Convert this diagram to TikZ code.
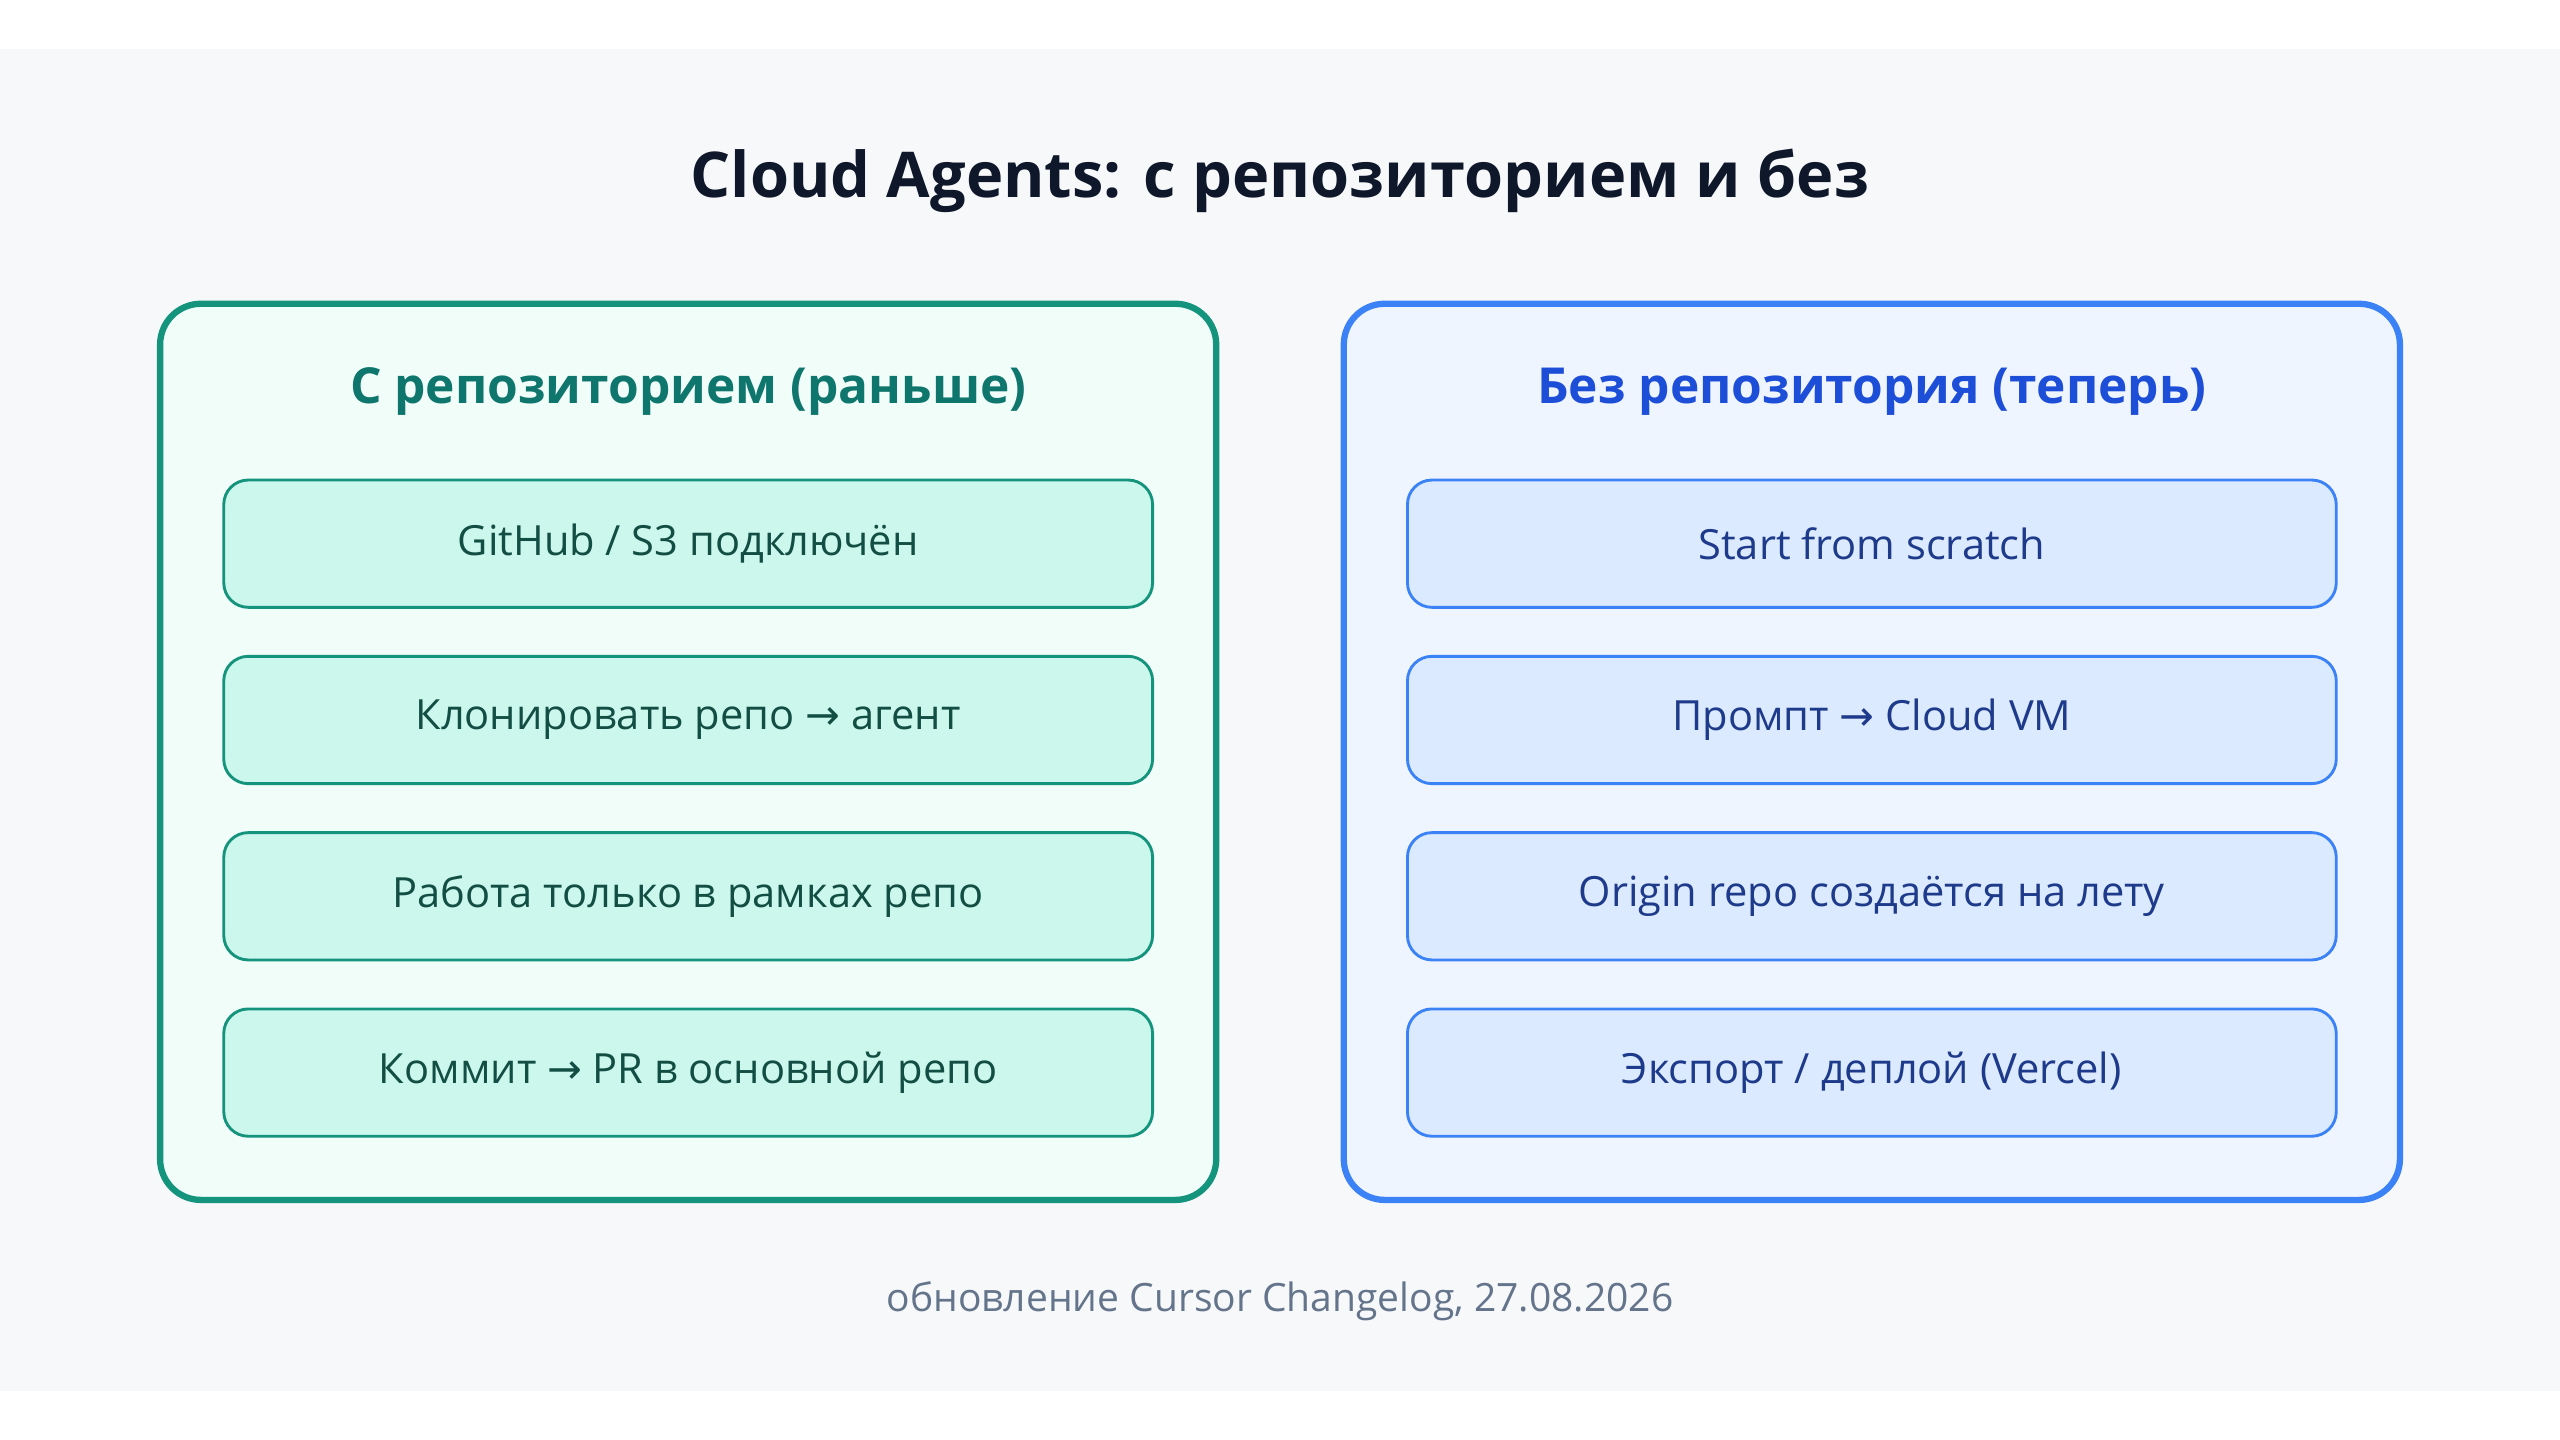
\documentclass[tikz,border=0pt]{standalone}
\usepackage{fontspec}
\setmainfont{Open Sans}
\newfontfamily\arrowfont{DejaVu Sans}
\usetikzlibrary{positioning}
\definecolor{bgpage}{HTML}{F7F8FA}
\definecolor{titlecol}{HTML}{0F172A}
\definecolor{footcol}{HTML}{64748B}
\definecolor{tealline}{HTML}{14937D}
\definecolor{tealpanel}{HTML}{F0FDF9}
\definecolor{tealbox}{HTML}{CCF7EC}
\definecolor{tealtext}{HTML}{134E44}
\definecolor{tealhead}{HTML}{0F766E}
\definecolor{blueline}{HTML}{3B82F6}
\definecolor{bluepanel}{HTML}{EFF5FF}
\definecolor{bluebox}{HTML}{DBEAFE}
\definecolor{bluetext}{HTML}{1E3A8A}
\definecolor{bluehead}{HTML}{1D4ED8}
\newcommand{\ar}{{\arrowfont →}}
\tikzset{
	panel/.style={rectangle,rounded corners=0.5cm,line width=2.2pt,minimum width=12.94cm,minimum height=10.98cm},
	stepbox/.style={rectangle,rounded corners=0.3cm,line width=1pt,minimum width=11.38cm,minimum height=1.56cm,font=\fontsize{14.5}{17}\selectfont},
	head/.style={font=\fontsize{17.3}{20}\selectfont\bfseries}
}
\begin{document}
\begin{tikzpicture}[x=0.02cm,y=-0.02cm,node distance=0.565cm]
	\useasboundingbox (0,0) rectangle (1568,882);
	\fill[white] (0,0) rectangle (1568,882);
	\fill[bgpage] (0,30) rectangle (1568,852);
	\node[font=\fontsize{22}{26}\selectfont\bfseries,text=titlecol] (title) at (784,111) {Cloud Agents: с репозиторием и без};
	% left panel
	\node[panel,draw=tealline,fill=tealpanel] (lpanel) at (421.5,460.5) {};
	\node[head,text=tealhead] (lhead) at (421.5,240) {С репозиторием (раньше)};
	\node[stepbox,draw=tealline,fill=tealbox,text=tealtext] (l1) at (421.5,333) {GitHub / S3 подключён};
	\node[stepbox,draw=tealline,fill=tealbox,text=tealtext,below=of l1] (l2) {Клонировать репо \ar{} агент};
	\node[stepbox,draw=tealline,fill=tealbox,text=tealtext,below=of l2] (l3) {Работа только в рамках репо};
	\node[stepbox,draw=tealline,fill=tealbox,text=tealtext,below=of l3] (l4) {Коммит \ar{} PR в основной репо};
	% right panel
	\node[panel,draw=blueline,fill=bluepanel] (rpanel) at (1146.5,460.5) {};
	\node[head,text=bluehead] (rhead) at (1146.5,240) {Без репозитория (теперь)};
	\node[stepbox,draw=blueline,fill=bluebox,text=bluetext] (r1) at (1146.5,333) {Start from scratch};
	\node[stepbox,draw=blueline,fill=bluebox,text=bluetext,below=of r1] (r2) {Промпт \ar{} Cloud VM};
	\node[stepbox,draw=blueline,fill=bluebox,text=bluetext,below=of r2] (r3) {Origin repo создаётся на лету};
	\node[stepbox,draw=blueline,fill=bluebox,text=bluetext,below=of r3] (r4) {Экспорт / деплой (Vercel)};
	\node[font=\fontsize{13.6}{16}\selectfont,text=footcol] (foot) at (784,797) {обновление Cursor Changelog, 27.08.2026};
\end{tikzpicture}
\end{document}
